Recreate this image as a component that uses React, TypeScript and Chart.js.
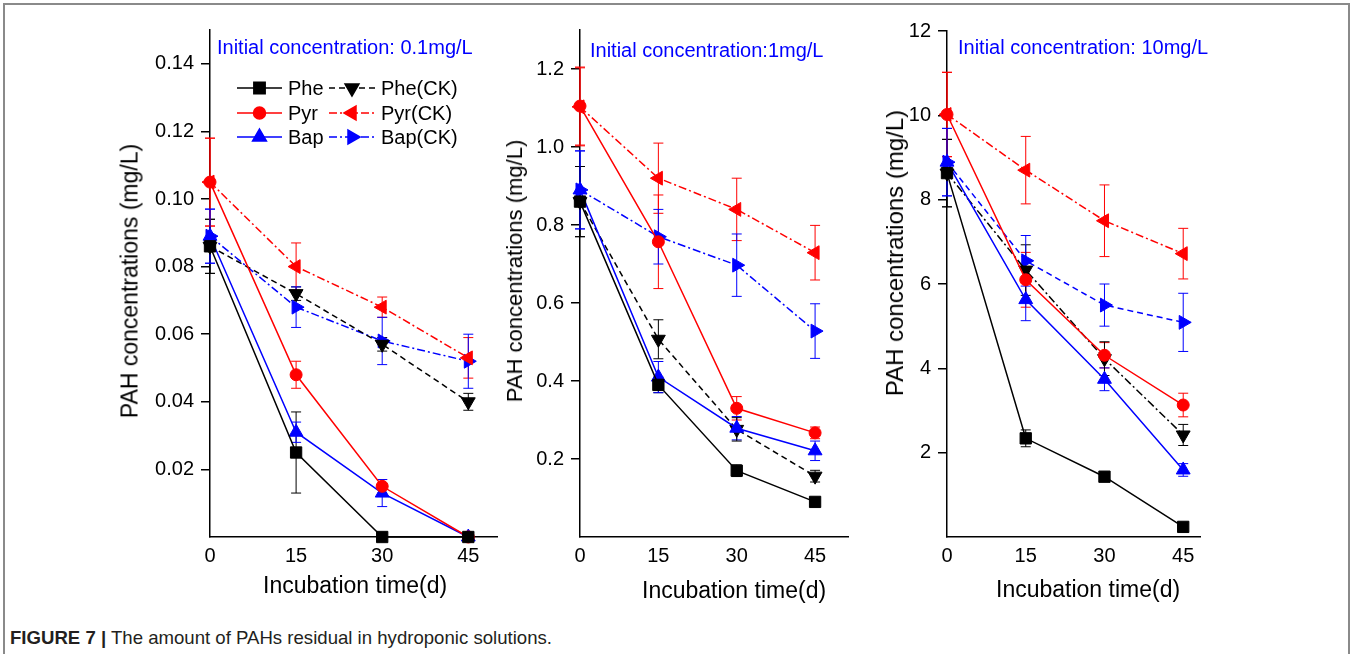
import React, { useEffect, useRef } from 'react';
import { Chart, registerables } from 'chart.js';
import { drawPoint } from 'chart.js/helpers';

Chart.register(...registerables);

// ---------- data ----------
const days = [0, 15, 30, 45];
const xTickValues = [0, 15, 30, 45];
const seriesLabels = ['Phe', 'Pyr', 'Bap', 'Phe(CK)', 'Pyr(CK)', 'Bap(CK)'];

// Panel A: initial concentration 0.1 mg/L
const pheA = [0.086, 0.025, 0.0, 0.0];
const pheErrA = [0.008, 0.012, 0.001, 0];
const pyrA = [0.105, 0.048, 0.015, 0.0];
const pyrErrA = [0.013, 0.004, 0.002, 0];
const bapA = [0.089, 0.031, 0.013, 0.0];
const bapErrA = [0.008, 0.003, 0.004, 0];
const pheCkA = [0.086, 0.072, 0.057, 0.04];
const pheCkErrA = [0.008, 0.002, 0.002, 0.0025];
const pyrCkA = [0.105, 0.08, 0.068, 0.053];
const pyrCkErrA = [0.013, 0.007, 0.003, 0.006];
const bapCkA = [0.089, 0.068, 0.058, 0.052];
const bapCkErrA = [0.008, 0.006, 0.007, 0.008];
const yTicksA = [0.02, 0.04, 0.06, 0.08, 0.1, 0.12, 0.14];

// Panel B: initial concentration 1 mg/L
const pheB = [0.86, 0.39, 0.17, 0.09];
const pheErrB = [0.09, 0.02, 0.015, 0.005];
const pyrB = [1.105, 0.757, 0.33, 0.267];
const pyrErrB = [0.1, 0.12, 0.03, 0.015];
const bapB = [0.89, 0.41, 0.279, 0.221];
const bapErrB = [0.1, 0.04, 0.03, 0.025];
const pheCkB = [0.86, 0.507, 0.276, 0.156];
const pheCkErrB = [0.09, 0.05, 0.03, 0.015];
const pyrCkB = [1.103, 0.92, 0.84, 0.729];
const pyrCkErrB = [0.1, 0.09, 0.08, 0.07];
const bapCkB = [0.89, 0.77, 0.697, 0.528];
const bapCkErrB = [0.1, 0.07, 0.08, 0.07];
const yTicksB = [0.2, 0.4, 0.6, 0.8, 1.0, 1.2];

// Panel C: initial concentration 10 mg/L
const pheC = [8.63, 2.34, 1.43, 0.24];
const pheErrC = [0.8, 0.2, 0.1, 0.05];
const pyrC = [10.02, 6.1, 4.31, 3.13];
const pyrErrC = [1.0, 0.65, 0.3, 0.28];
const bapC = [8.89, 5.63, 3.74, 1.59];
const bapErrC = [0.8, 0.5, 0.27, 0.15];
const pheCkC = [8.63, 6.33, 4.23, 2.42];
const pheCkErrC = [0.8, 0.6, 0.4, 0.25];
const pyrCkC = [10.02, 8.7, 7.5, 6.72];
const pyrCkErrC = [1.0, 0.8, 0.85, 0.6];
const bapCkC = [8.89, 6.55, 5.5, 5.09];
const bapCkErrC = [0.8, 0.6, 0.5, 0.69];
const yTicksC = [2, 4, 6, 8, 10, 12];

// ---------- styles ----------
const FONT = '"Liberation Sans", Arial, Helvetica, sans-serif';
const BLACK = '#000000';
const RED = '#ff0000';
const BLUE = '#0000ff';
const colors = [BLACK, RED, BLUE, BLACK, RED, BLUE];
const pointStyles = ['rect', 'circle', 'triangle', 'triangle', 'triangle', 'triangle'];
const rotations = [0, 0, 0, 180, -90, 90];
const radii = [8, 6, 8, 8, 8, 8];
const SOLID: number[] = [];
const DASH = [6, 4];
const DASHDOT = [8, 3, 2, 3];
const CANVAS_H = 620;

type PanelSpec = {
  key: string;
  left: number;
  width: number;
  yAxisWidth: number;
  padTop: number;
  xMax: number;
  yMax: number;
  yTicks: number[];
  decimals: number;
  values: number[][];
  errors: number[][];
  dashes: number[][];
  legend: boolean;
};

const panels: PanelSpec[] = [
  {
    key: 'a', left: 114, width: 393, yAxisWidth: 96, padTop: 30, xMax: 50, yMax: 0.15,
    yTicks: yTicksA, decimals: 2,
    values: [pheA, pyrA, bapA, pheCkA, pyrCkA, bapCkA],
    errors: [pheErrA, pyrErrA, bapErrA, pheCkErrA, pyrCkErrA, bapCkErrA],
    dashes: [SOLID, SOLID, SOLID, DASH, DASHDOT, DASHDOT],
    legend: true,
  },
  {
    key: 'b', left: 499, width: 359, yAxisWidth: 81, padTop: 30, xMax: 51.3, yMax: 1.3,
    yTicks: yTicksB, decimals: 1,
    values: [pheB, pyrB, bapB, pheCkB, pyrCkB, bapCkB],
    errors: [pheErrB, pyrErrB, bapErrB, pheCkErrB, pyrCkErrB, bapCkErrB],
    dashes: [SOLID, SOLID, SOLID, DASH, DASHDOT, DASHDOT],
    legend: false,
  },
  {
    key: 'c', left: 881, width: 329, yAxisWidth: 66, padTop: 31, xMax: 48.2, yMax: 12,
    yTicks: yTicksC, decimals: 0,
    values: [pheC, pyrC, bapC, pheCkC, pyrCkC, bapCkC],
    errors: [pheErrC, pyrErrC, bapErrC, pheCkErrC, pyrCkErrC, bapCkErrC],
    dashes: [SOLID, SOLID, SOLID, DASHDOT, DASHDOT, DASH],
    legend: false,
  },
];

// ---------- plugins ----------
const errorBarPlugin = {
  id: 'errorBars',
  beforeDatasetsDraw(chart: any) {
    const ctx = chart.ctx;
    const xs = chart.scales.x;
    const ys = chart.scales.y;
    chart.data.datasets.forEach((ds: any) => {
      if (!ds.errors) return;
      ctx.save();
      ctx.strokeStyle = ds.borderColor;
      ctx.lineWidth = 1;
      ctx.setLineDash([]);
      ds.data.forEach((p: any, i: number) => {
        const e = ds.errors[i];
        if (!e) return;
        const x = xs.getPixelForValue(p.x);
        const y1 = ys.getPixelForValue(p.y + e);
        const y2 = ys.getPixelForValue(Math.max(0, p.y - e));
        ctx.beginPath();
        ctx.moveTo(x, y1);
        ctx.lineTo(x, y2);
        ctx.moveTo(x - 5, y1);
        ctx.lineTo(x + 5, y1);
        ctx.moveTo(x - 5, y2);
        ctx.lineTo(x + 5, y2);
        ctx.stroke();
      });
      ctx.restore();
    });
  },
};

const innerLegendPlugin = {
  id: 'innerLegend',
  afterDraw(chart: any) {
    const opts = chart.options.plugins.innerLegend;
    if (!opts || !opts.display) return;
    const ctx = chart.ctx;
    const ds = chart.data.datasets;
    ds.forEach((d: any, i: number) => {
      const col = i < 3 ? opts.col1 : opts.col2;
      const y = opts.rows[i % 3];
      ctx.save();
      ctx.strokeStyle = d.borderColor;
      ctx.lineWidth = 1.5;
      ctx.setLineDash(d.borderDash || []);
      ctx.beginPath();
      ctx.moveTo(col.x1, y);
      ctx.lineTo(col.x2, y);
      ctx.stroke();
      ctx.setLineDash([]);
      ctx.fillStyle = d.pointBackgroundColor;
      ctx.strokeStyle = d.pointBorderColor;
      drawPoint(ctx, {
        pointStyle: d.pointStyle,
        rotation: d.pointRotation,
        radius: d.pointRadius,
        borderWidth: 1,
      } as any, (col.x1 + col.x2) / 2, y);
      ctx.fillStyle = '#000';
      ctx.font = `20px ${FONT}`;
      ctx.textBaseline = 'middle';
      ctx.textAlign = 'left';
      ctx.fillText(d.label, col.tx, y + 1);
      ctx.restore();
    });
  },
};

function buildConfig(spec: PanelSpec): any {
  const datasets = spec.values.map((vals, i) => ({
    label: seriesLabels[i],
    data: days.map((d, j) => ({ x: d, y: vals[j] })),
    errors: spec.errors[i],
    borderColor: colors[i],
    backgroundColor: colors[i],
    pointBackgroundColor: colors[i],
    pointBorderColor: colors[i],
    borderWidth: 1.5,
    borderDash: spec.dashes[i],
    pointStyle: pointStyles[i],
    pointRotation: rotations[i],
    pointRadius: radii[i],
    pointBorderWidth: 1,
    tension: 0,
    fill: false,
    clip: false,
  }));
  return {
    type: 'line',
    data: { datasets },
    plugins: [errorBarPlugin, innerLegendPlugin],
    options: {
      animation: false,
      responsive: false,
      maintainAspectRatio: false,
      events: [],
      layout: { padding: { top: spec.padTop, right: 10, left: 0, bottom: 0 } },
      plugins: {
        legend: { display: false },
        tooltip: { enabled: false },
        innerLegend: {
          display: spec.legend,
          rows: [88, 113, 137],
          col1: { x1: 123, x2: 168, tx: 174 },
          col2: { x1: 215, x2: 261, tx: 267 },
        },
      },
      scales: {
        x: {
          type: 'linear',
          min: 0,
          max: spec.xMax,
          afterBuildTicks: (s: any) => { s.ticks = xTickValues.map((v) => ({ value: v })); },
          afterFit: (s: any) => { s.height = CANVAS_H - 537; },
          grid: { display: false, drawTicks: false, tickLength: 0 },
          border: { display: true, color: '#000', width: 1.5 },
          ticks: {
            color: '#000',
            font: { family: FONT, size: 20 },
            padding: 7,
            maxRotation: 0,
            autoSkip: false,
            callback: (v: any) => String(v),
          },
        },
        y: {
          type: 'linear',
          min: 0,
          max: spec.yMax,
          afterBuildTicks: (s: any) => { s.ticks = spec.yTicks.map((v) => ({ value: v })); },
          afterFit: (s: any) => { s.width = spec.yAxisWidth; },
          grid: { display: true, drawOnChartArea: false, drawTicks: true, tickLength: 9, color: '#000', lineWidth: 1.5 },
          border: { display: true, color: '#000', width: 1.5 },
          ticks: {
            color: '#000',
            font: { family: FONT, size: 20 },
            padding: 7,
            autoSkip: false,
            callback: (v: any) => Number(v).toFixed(spec.decimals),
          },
        },
      },
    },
  };
}

function Panel({ spec }: { spec: PanelSpec }) {
  const ref = useRef<HTMLCanvasElement>(null);
  useEffect(() => {
    const chart = new Chart(ref.current as HTMLCanvasElement, buildConfig(spec));
    return () => chart.destroy();
  }, []);
  return (
    <canvas
      ref={ref}
      width={spec.width}
      height={CANVAS_H}
      style={{ position: 'absolute', left: spec.left, top: 0, width: spec.width, height: CANVAS_H }}
    />
  );
}

const annotations = [
  { text: 'Initial concentration: 0.1mg/L', left: 217, baseline: 54 },
  { text: 'Initial concentration:1mg/L', left: 590, baseline: 57 },
  { text: 'Initial concentration: 10mg/L', left: 958, baseline: 54 },
];
const xTitles = [
  { left: 263, baseline: 593 },
  { left: 642, baseline: 598 },
  { left: 996, baseline: 597 },
];
const yTitles = [
  { cx: 130, cy: 281, size: 23 },
  { cx: 515, cy: 271, size: 22 },
  { cx: 895, cy: 253, size: 24 },
];

export default function App() {
  return (
    <div
      style={{
        position: 'absolute', left: 0, top: 0, width: 1352, height: 654,
        background: '#fff', overflow: 'hidden', fontFamily: FONT,
      }}
    >
      <div
        style={{
          position: 'absolute', left: 3, top: 3, width: 1347, height: 700,
          boxSizing: 'border-box', border: '2px solid #8a8a8a',
        }}
      />
      {panels.map((p) => <Panel key={p.key} spec={p} />)}
      {annotations.map((a, i) => (
        <div key={'an' + i} style={{ position: 'absolute', left: a.left, top: a.baseline - 18.3, fontSize: 20, color: BLUE, whiteSpace: 'nowrap', lineHeight: 'normal' }}>
          {a.text}
        </div>
      ))}
      {xTitles.map((t, i) => (
        <div key={'xt' + i} style={{ position: 'absolute', left: t.left, top: t.baseline - 21, fontSize: 23, color: '#000', whiteSpace: 'nowrap', lineHeight: 'normal' }}>
          Incubation time(d)
        </div>
      ))}
      {yTitles.map((t, i) => (
        <div key={'yt' + i} style={{ position: 'absolute', left: t.cx, top: t.cy, fontSize: t.size, color: '#000', whiteSpace: 'nowrap', lineHeight: 'normal', transform: 'translate(-50%, -50%) rotate(-90deg)' }}>
          PAH concentrations (mg/L)
        </div>
      ))}
      <div style={{ position: 'absolute', left: 10, top: 627, fontSize: 18.6, color: '#231f20', whiteSpace: 'nowrap', lineHeight: 'normal' }}>
        <b>FIGURE 7 |</b> The amount of PAHs residual in hydroponic solutions.
      </div>
    </div>
  );
}
